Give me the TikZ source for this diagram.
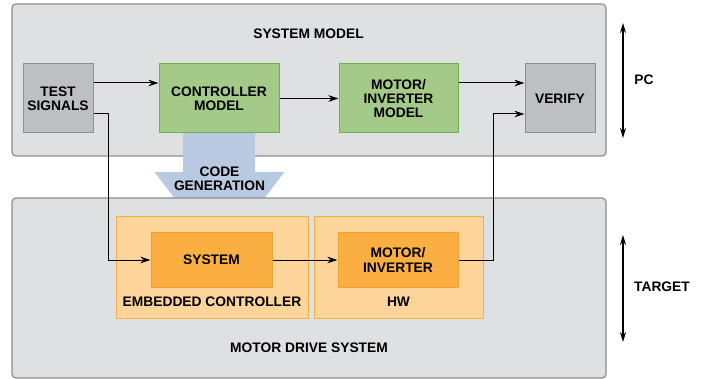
\documentclass[tikz,border=0pt]{standalone}
\usepackage{fontspec}
\setmainfont{Liberation Sans}
\usetikzlibrary{arrows.meta}
\definecolor{panelfill}{HTML}{DFE0E2}
\definecolor{paneldraw}{HTML}{8C8C8C}
\definecolor{grayfill}{HTML}{BEBFC1}
\definecolor{graydraw}{HTML}{8E8E8E}
\definecolor{greenfill}{HTML}{A4CA89}
\definecolor{greendraw}{HTML}{6AB54A}
\definecolor{codeblue}{HTML}{B8C9E1}
\definecolor{lightorange}{HTML}{FDD49A}
\definecolor{lightorangedraw}{HTML}{F3AE4A}
\definecolor{orangefill}{HTML}{FBAF40}
\definecolor{orangedraw}{HTML}{EFA034}

\begin{document}
\begin{tikzpicture}[x=1pt,y=-1pt,>={Stealth[length=10pt,width=6.5pt]},
		txt/.style={font=\fontsize{13.8}{14}\selectfont\bfseries,align=center},
		panel/.style={fill=panelfill,draw=paneldraw,line width=1.2pt,rounded corners=4pt},
		sigbox/.style={txt,rectangle,fill=grayfill,draw=graydraw,line width=1pt,minimum width=70pt,minimum height=69pt,inner sep=1pt},
		modelbox/.style={txt,rectangle,fill=greenfill,draw=greendraw,line width=1pt,minimum width=120pt,minimum height=69pt,inner sep=1pt},
		partbox/.style={rectangle,fill=lightorange,draw=lightorangedraw,line width=1pt,minimum height=101pt,inner sep=0pt},
		hwbox/.style={txt,rectangle,fill=orangefill,draw=orangedraw,line width=1pt,minimum width=120pt,minimum height=54pt,inner sep=1pt}]
		\useasboundingbox (0,0) rectangle (706,379);
		
		% PC side
		\draw[panel] (12,4) rectangle (606,156);
		\fill[codeblue] (183,133) -- (255,133) -- (255,172) -- (284.5,172) -- (219.5,257)
			-- (154.5,172) -- (183,172) -- cycle;
		% target side
		\draw[panel] (12,198) rectangle (606,378);
		\node[partbox,minimum width=192pt] (emb) at (212,267.5) {};
		\node[partbox,minimum width=169pt] (hw)  at (398.5,267.5) {};
		
		\node[sigbox]   (test)   at (58,98.5)    {TEST\\SIGNALS};
		\node[modelbox] (ctrl)   at (219,98.5)   {CONTROLLER\\MODEL};
		\node[modelbox,minimum width=119pt] (motm) at (398.5,98.5) {MOTOR/\\INVERTER\\MODEL};
		\node[sigbox]   (verify) at (560,98.5)   {VERIFY};
		\node[hwbox,minimum width=121pt] (sys) at (211.5,260) {SYSTEM};
		\node[hwbox]    (moth)   at (398,260)    {MOTOR/\\INVERTER};
		
		\node[txt] (sysmodel) at (308.5,34)  {SYSTEM MODEL};
		\node[txt] (codegen)  at (219.5,179) {CODE\\GENERATION};
		\node[txt] (emblabel) at (212,302)   {EMBEDDED CONTROLLER};
		\node[txt] (hwlabel)  at (398.5,302) {HW};
		\node[txt] (drive)    at (309,348)   {MOTOR DRIVE SYSTEM};
		\node[txt] (pc)       at (644,80)    {PC};
		\node[txt] (target)   at (662,287)   {TARGET};
		
		\coordinate (pctop) at (623,23);
		\coordinate (pcbot) at (623,138);
		\coordinate (tgtop) at (623,235);
		\coordinate (tgbot) at (623,342);
		
		\draw[->,line width=1pt] ([yshift=15.5pt]test.east) -- ([yshift=15.5pt]ctrl.west);
		\draw[->,line width=1pt] (ctrl.east) -- (motm.west);
		\draw[->,line width=1pt] ([yshift=15.5pt]motm.east) -- ([yshift=15.5pt]verify.west);
		\draw[->,line width=1pt] ([yshift=-15.5pt]test.east) -- ++(15pt,0) |- (sys.west);
		\draw[->,line width=1pt] (sys.east) -- (moth.west);
		\draw[->,line width=1pt] (moth.east) -- ++(35pt,0) |- ([yshift=-15.5pt]verify.west);
		
		\draw[<->,line width=1.5pt,>={Stealth[length=10pt,width=6pt]}] (pctop) -- (pcbot);
		\draw[<->,line width=1.5pt,>={Stealth[length=10pt,width=6pt]}] (tgtop) -- (tgbot);
\end{tikzpicture}
\end{document}
